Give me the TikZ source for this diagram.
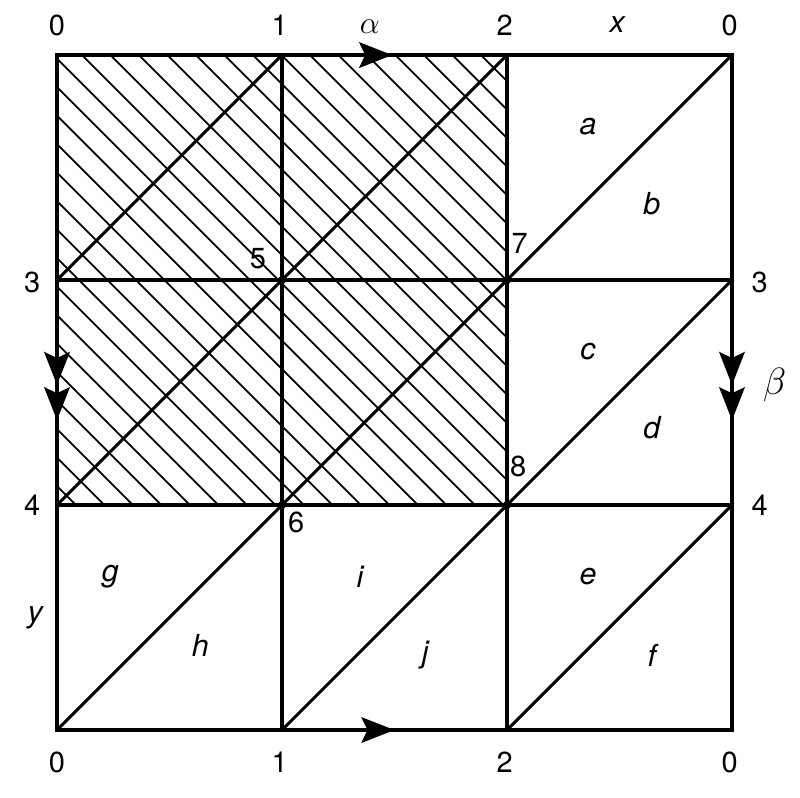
\documentclass[tikz,border=0pt]{standalone}
\usepackage{fontspec}
\setmainfont{TeX Gyre Heros}
\usetikzlibrary{arrows.meta, positioning}

\begin{document}
\begin{tikzpicture}[>={Stealth[length=0.44cm,width=0.34cm,inset=0.08cm]}, every node/.style={font=\fontsize{11}{13}\selectfont, inner sep=1pt},
    edgeline/.style={line width=1.35pt},
    diagline/.style={line width=1.15pt},
    hatchline/.style={line width=0.65pt},
    letter/.style={font=\fontsize{11.5}{13}\selectfont\itshape}]

    \useasboundingbox (-0.76,-0.893) rectangle (9.907,9.734);

    % grid points
    \coordinate (A0) at (0,0); \coordinate (A1) at (0,3); \coordinate (A2) at (0,6); \coordinate (A3) at (0,9);
    \coordinate (B0) at (3,0); \coordinate (B1) at (3,3); \coordinate (B2) at (3,6); \coordinate (B3) at (3,9);
    \coordinate (C0) at (6,0); \coordinate (C1) at (6,3); \coordinate (C2) at (6,6); \coordinate (C3) at (6,9);
    \coordinate (D0) at (9,0); \coordinate (D1) at (9,3); \coordinate (D2) at (9,6); \coordinate (D3) at (9,9);

    % hatching of the upper left block
    \begin{scope}
        \clip (A1) rectangle (C3);
        \foreach \k in {8,...,38}
            \draw[hatchline] ({0.213+\k*0.38-9},9) -- ({0.213+\k*0.38-3},3);
    \end{scope}

    % squares
    \draw[edgeline] (A0) rectangle (D3);
    \draw[edgeline] (B0) -- (B3) (C0) -- (C3);
    \draw[edgeline] (A1) -- (D1) (A2) -- (D2);

    % diagonals
    \path[diagline] (A0) edge (B1)  (B0) edge (C1)  (C0) edge (D1)
                    (A1) edge (B2)  (B1) edge (C2)  (C1) edge (D2)
                    (A2) edge (B3)  (B2) edge (C3)  (C2) edge (D3);

    % arrows on the edges
    \coordinate (T1) at (4.47,9);
    \coordinate (T2) at (4.50,0);
    \coordinate (L1) at (0,4.60); \coordinate (L2) at (0,4.13);
    \coordinate (R1) at (9,4.60); \coordinate (R2) at (9,4.13);
    \draw[edgeline,->] (B3) -- (T1);
    \draw[edgeline,->] (B0) -- (T2);
    \draw[edgeline,->] (A2) -- (L1);
    \draw[edgeline,->] (L1) -- (L2);
    \draw[edgeline,->] (D2) -- (R1);
    \draw[edgeline,->] (R1) -- (R2);

    % vertices
    \foreach \p in {B1,B2,C1,C2}
        \fill (\p) circle (0.055);

    % vertex labels
    \node at (0,9.40) {0};  \node at (2.97,9.40) {1};  \node at (5.97,9.40) {2};  \node at (8.97,9.40) {0};
    \node at (0,-0.43) {0}; \node at (2.97,-0.43) {1}; \node at (5.97,-0.43) {2}; \node at (8.97,-0.43) {0};
    \node at (-0.33,5.97) {3}; \node at (-0.33,3) {4};
    \node at (9.37,5.97) {3};  \node at (9.37,3) {4};
    \node at (2.68,6.29) {5};  \node at (3.19,2.77) {6};
    \node at (6.17,6.49) {7};  \node at (6.15,3.52) {8};

    % edge labels
    \node at (4.17,9.38) {\fontsize{13}{15}\selectfont$\alpha$};
    \node at (9.57,4.60) {\fontsize{14}{16}\selectfont$\beta$};
    \node[letter] at (7.47,9.40) {x};
    \node[letter] at (-0.29,1.5) {y};

    % triangle labels
    \node[letter] at (7.08,8.04) {a}; \node[letter] at (7.93,7.02) {b};
    \node[letter] at (7.08,5.04) {c}; \node[letter] at (7.93,4.03) {d};
    \node[letter] at (7.08,2.04) {e}; \node[letter] at (7.93,1.00) {f};
    \node[letter] at (0.71,2.04) {g}; \node[letter] at (1.91,1.13) {h};
    \node[letter] at (4.04,2.04) {i}; \node[letter] at (4.91,1.00) {j};
\end{tikzpicture}
\end{document}
